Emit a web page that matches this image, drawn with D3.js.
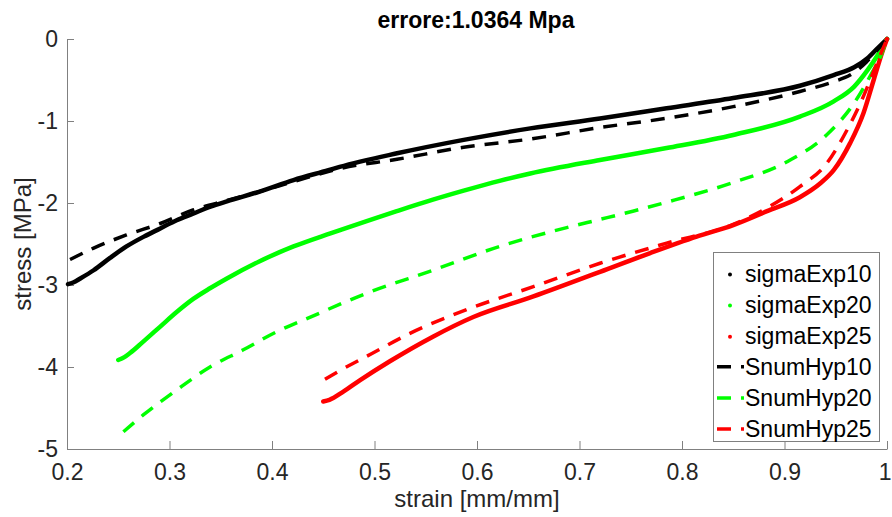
<!DOCTYPE html>
<html>
<head>
<meta charset="utf-8">
<script src="https://cdn.jsdelivr.net/npm/d3@7"></script>
<style>
  body { margin: 0; background: #fff; }
  svg { font-family: "Liberation Sans", Arial, sans-serif; }
  .axis path, .axis line { stroke: #808080; stroke-width: 1; }
  .axis text { fill: #262626; font-size: 23px; }
</style>
</head>
<body>
<div id="chart"></div>
<script>
// strain [mm/mm], stress [MPa]
var sigmaExp10 = [[0.201,-2.99],[0.206,-2.97],[0.213,-2.92],[0.226,-2.82],[0.242,-2.67],[0.258,-2.53],[0.275,-2.41],
  [0.291,-2.31],[0.307,-2.21],[0.323,-2.13],[0.340,-2.045],[0.356,-1.98],[0.388,-1.86],[0.421,-1.72],[0.455,-1.60],
  [0.466,-1.56],[0.522,-1.394],[0.587,-1.23],[0.652,-1.09],[0.72,-0.97],[0.785,-0.845],[0.85,-0.72],[0.915,-0.57],
  [0.948,-0.44],[0.968,-0.345],[0.981,-0.235],[0.991,-0.11],[1.0,0]];

var sigmaExp20 = [[0.250,-3.915],[0.256,-3.88],[0.2615,-3.83],[0.2744,-3.69],[0.2907,-3.51],[0.307,-3.33],[0.3232,-3.17],
  [0.3395,-3.04],[0.356,-2.92],[0.388,-2.71],[0.421,-2.53],[0.457,-2.37],[0.4924,-2.22],[0.5217,-2.10],[0.557,-1.96],
  [0.587,-1.85],[0.622,-1.73],[0.652,-1.64],[0.72,-1.475],[0.785,-1.33],[0.85,-1.17],[0.915,-0.947],[0.948,-0.76],
  [0.968,-0.58],[0.981,-0.38],[0.991,-0.195],[1.0,0]];

var sigmaExp25 = [[0.450,-4.42],[0.456,-4.40],[0.4696,-4.30],[0.486,-4.16],[0.515,-3.93],[0.557,-3.63],[0.5964,-3.39],
  [0.655,-3.14],[0.72,-2.84],[0.769,-2.61],[0.8143,-2.41],[0.85,-2.27],[0.883,-2.10],[0.915,-1.93],[0.935,-1.76],
  [0.948,-1.60],[0.964,-1.27],[0.977,-0.906],[0.987,-0.5],[0.995,-0.175],[1.0,0]];

var snumHyp10 = [[0.203,-2.69],[0.226,-2.55],[0.258,-2.39],[0.291,-2.25],[0.323,-2.085],[0.356,-1.97],[0.388,-1.86],
  [0.421,-1.74],[0.466,-1.58],[0.522,-1.467],[0.587,-1.32],[0.652,-1.22],[0.72,-1.08],[0.785,-0.967],[0.85,-0.825],
  [0.915,-0.64],[0.948,-0.52],[0.964,-0.44],[0.98,-0.28],[0.99,-0.14],[1.0,0]];

var snumHyp20 = [[0.255,-4.79],[0.2744,-4.585],[0.307,-4.28],[0.3395,-4.00],[0.372,-3.79],[0.4046,-3.57],[0.434,-3.41],
  [0.4924,-3.10],[0.557,-2.82],[0.622,-2.53],[0.6875,-2.30],[0.72,-2.20],[0.752,-2.10],[0.785,-1.99],[0.85,-1.75],
  [0.902,-1.50],[0.941,-1.17],[0.968,-0.78],[0.985,-0.42],[0.995,-0.175],[1.0,0]];

var snumHyp25 = [[0.4517,-4.15],[0.4696,-4.02],[0.4924,-3.87],[0.5346,-3.59],[0.59,-3.30],[0.655,-3.02],[0.72,-2.735],
  [0.785,-2.49],[0.85,-2.26],[0.883,-2.06],[0.915,-1.80],[0.941,-1.52],[0.961,-1.11],[0.977,-0.70],[0.99,-0.30],[1.0,0]];

var xTicks = [0.2, 0.3, 0.4, 0.5, 0.6, 0.7, 0.8, 0.9, 1];
var yTicks = [0, -1, -2, -3, -4, -5];

var seriesNames = ['sigmaExp10', 'sigmaExp20', 'sigmaExp25', 'SnumHyp10', 'SnumHyp20', 'SnumHyp25'];
var seriesColors = ['#000000', '#00ff00', '#ff0000', '#000000', '#00ff00', '#ff0000'];
var seriesData = [sigmaExp10, sigmaExp20, sigmaExp25, snumHyp10, snumHyp20, snumHyp25];

var titleText = 'errore:1.0364 Mpa';
var xTitle = 'strain [mm/mm]';
var yTitle = 'stress [MPa]';

var width = 892,
    height = 517,
    margin = { left: 67, top: 39, right: 5, bottom: 68 };

var chartWidth = width - margin.left - margin.right;
var chartHeight = height - margin.top - margin.bottom;

var xScale = d3.scaleLinear().domain([0.2, 1]).range([0, chartWidth]);
var yScale = d3.scaleLinear().domain([-5, 0]).range([chartHeight, 0]);

var svg = d3.select('#chart').append('svg')
    .attr('width', width)
    .attr('height', height);

var g = svg.append('g')
    .attr('transform', 'translate(' + margin.left + ',' + margin.top + ')');

// axes, ticks pointing inward
var xAxis = d3.axisBottom(xScale).tickValues(xTicks).tickFormat(d3.format('')).tickSizeInner(-8).tickSizeOuter(0).tickPadding(15);
var yAxis = d3.axisLeft(yScale).tickValues(yTicks).tickFormat(d3.format('')).tickSizeInner(-7).tickSizeOuter(0).tickPadding(9);

g.append('g')
    .attr('class', 'axis x')
    .attr('transform', 'translate(0,' + chartHeight + ')')
    .call(xAxis);

g.append('g')
    .attr('class', 'axis y')
    .call(yAxis);

g.selectAll('.axis text').attr('fill', '#262626');
g.selectAll('.axis.y text').text(function(d) { return d === 0 ? '0' : '-' + Math.abs(d); });

// keep the last x label inside the page
g.selectAll('.axis.x text')
    .filter(function(d) { return d === 1; })
    .attr('text-anchor', 'end')
    .attr('x', 4);

// curves
var line = d3.line()
    .x(function(d) { return xScale(d[0]); })
    .y(function(d) { return yScale(d[1]); })
    .curve(d3.curveMonotoneX);

var curves = g.append('g').attr('class', 'curves');

seriesData.forEach(function(data, i) {
    var dashed = i >= 3;
    curves.append('path')
        .datum(data)
        .attr('d', line)
        .attr('fill', 'none')
        .attr('stroke', seriesColors[i])
        .attr('stroke-width', dashed ? 3.5 : 4.5)
        .attr('stroke-linecap', dashed ? 'butt' : 'round')
        .attr('stroke-linejoin', 'round')
        .attr('stroke-dasharray', dashed ? '14,10' : null);
});

// titles
svg.append('text')
    .attr('x', 476)
    .attr('y', 28)
    .attr('text-anchor', 'middle')
    .style('font-size', '23px')
    .style('font-weight', 'bold')
    .attr('fill', '#000')
    .text(titleText);

svg.append('text')
    .attr('x', margin.left + chartWidth / 2)
    .attr('y', 507)
    .attr('text-anchor', 'middle')
    .style('font-size', '24px')
    .attr('fill', '#262626')
    .text(xTitle);

svg.append('text')
    .attr('transform', 'translate(31,' + (margin.top + chartHeight / 2) + ') rotate(-90)')
    .attr('text-anchor', 'middle')
    .style('font-size', '24px')
    .attr('fill', '#262626')
    .text(yTitle);

// legend
var legend = svg.append('g').attr('class', 'legend');

legend.append('rect')
    .attr('x', 713.5)
    .attr('y', 252.5)
    .attr('width', 166)
    .attr('height', 189)
    .attr('fill', '#fff')
    .attr('stroke', '#808080')
    .attr('stroke-width', 1);

seriesNames.forEach(function(name, i) {
    var base = 281.5 + 31.1 * i;
    var row = legend.append('g');
    if (i < 3) {
        row.append('circle')
            .attr('cx', 730)
            .attr('cy', base - 7)
            .attr('r', 2)
            .attr('fill', seriesColors[i]);
    } else {
        row.append('line')
            .attr('x1', 717)
            .attr('x2', 744)
            .attr('y1', base - 8)
            .attr('y2', base - 8)
            .attr('stroke', seriesColors[i])
            .attr('stroke-width', 3.5)
            .attr('stroke-dasharray', '14,10');
    }
    row.append('text')
        .attr('x', 745)
        .attr('y', base)
        .style('font-size', '23px')
        .attr('fill', '#000')
        .text(name);
});
</script>
</body>
</html>
